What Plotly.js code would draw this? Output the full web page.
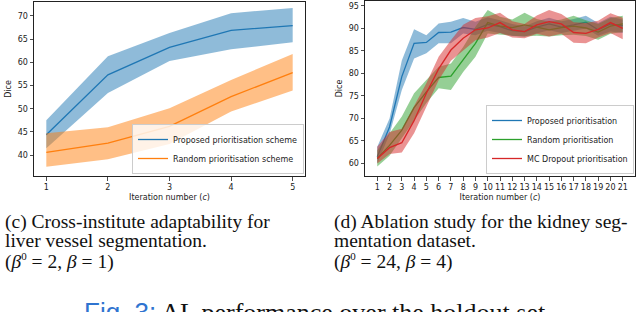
<!DOCTYPE html>
<html><head><meta charset="utf-8">
<script src="https://cdn.plot.ly/plotly-3.0.1.min.js"></script>
<style>html,body{margin:0;padding:0;background:#fff}#chart{width:640px;height:312px}</style>
</head><body><div id="chart"></div>
<script>
// ---- Panel (c): cross-institute adaptability ----
const itersC = [1, 2, 3, 4, 5];
const propMeanC = [44.4, 57.3, 63.2, 66.9, 67.9];
const propLoC   = [41.5, 53.4, 60.3, 62.8, 64.3];
const propHiC   = [47.5, 61.3, 66.3, 70.6, 71.7];
const randMeanC = [40.6, 42.6, 46.2, 52.6, 57.8];
const randLoC   = [37.5, 39.1, 42.4, 49.4, 53.9];
const randHiC   = [44.7, 46.0, 50.1, 56.2, 61.8];
const namesC = ["Proposed prioritisation scheme", "Random prioritisation scheme"];

// ---- Panel (d): ablation study ----
const itersD = [1,2,3,4,5,6,7,8,9,10,11,12,13,14,15,16,17,18,19,20,21];
const propMeanD = [61.5,68.1,79.3,86.7,86.9,89.1,89.2,90.2,89.8,90.9,90.4,89.5,89.3,90.3,91.0,90.3,90.8,91.4,89.7,91.0,90.6];
const propLoD   = [60.0,66.5,76.3,83.3,84.5,86.7,86.7,88.9,88.5,89.5,89.0,88.3,88.2,88.9,89.6,89.0,89.5,90.0,88.4,89.3,89.0];
const propHiD   = [63.7,70.0,82.9,89.8,88.5,91.1,91.5,92.3,91.5,92.5,91.8,91.0,90.5,91.6,92.4,91.6,92.1,92.8,91.2,92.6,92.0];
const randMeanD = [61.1,64.0,67.4,72.4,75.9,79.1,79.4,83.0,86.7,91.3,90.5,90.2,90.8,90.3,89.7,90.2,90.5,90.1,89.2,90.5,91.0];
const randLoD   = [59.3,61.7,65.6,69.6,73.4,76.7,76.3,80.3,83.7,88.9,88.6,88.4,88.2,88.4,88.2,88.5,88.6,88.3,87.5,88.8,89.2];
const randHiD   = [62.9,66.7,70.4,75.6,78.5,81.5,82.2,85.9,90.4,94.1,92.6,92.0,93.5,92.1,91.5,92.0,92.8,91.8,91.0,92.3,92.8];
const mcMeanD   = [61.1,63.5,64.6,69.5,75.6,81.0,85.2,87.8,89.7,90.1,91.3,89.7,89.3,90.8,91.5,91.0,89.1,88.9,89.8,91.3,90.0];
const mcLoD     = [60.0,62.1,62.4,66.7,72.6,78.5,82.8,85.2,87.4,88.0,89.0,88.0,87.8,88.8,88.2,88.8,86.8,86.7,88.0,89.0,87.6];
const mcHiD     = [63.7,67.0,67.7,72.6,77.8,83.7,87.4,90.8,92.3,92.7,93.5,91.6,91.0,92.9,94.1,93.2,91.4,91.2,91.7,93.4,92.4];
const namesD = ["Proposed prioritisation", "Random prioritisation", "MC Dropout prioritisation"];

const BLUE = "#1f77b4", ORANGE = "#ff7f0e", GREEN = "#2ca02c", RED = "#d62728";
function rgba(hex, a) {
  const n = parseInt(hex.slice(1), 16);
  return `rgba(${(n>>16)&255},${(n>>8)&255},${n&255},${a})`;
}
function band(x, lo, hi, color, ax, ay) {
  return {x: x.concat(x.slice().reverse()), y: hi.concat(lo.slice().reverse()),
    type: "scatter", mode: "lines", fill: "toself", fillcolor: rgba(color, 0.5),
    line: {width: 0, color: rgba(color, 0)}, hoverinfo: "skip", showlegend: false,
    xaxis: ax, yaxis: ay};
}
function line(x, y, color, name, ax, ay, legend) {
  return {x: x, y: y, type: "scatter", mode: "lines", name: name,
    line: {color: color, width: 1.3}, xaxis: ax, yaxis: ay, legend: legend};
}

const traces = [
  band(itersC, propLoC, propHiC, BLUE, "x", "y"),
  line(itersC, propMeanC, BLUE, namesC[0], "x", "y", "legend"),
  band(itersC, randLoC, randHiC, ORANGE, "x", "y"),
  line(itersC, randMeanC, ORANGE, namesC[1], "x", "y", "legend"),
  band(itersD, propLoD, propHiD, BLUE, "x2", "y2"),
  line(itersD, propMeanD, BLUE, namesD[0], "x2", "y2", "legend2"),
  band(itersD, randLoD, randHiD, GREEN, "x2", "y2"),
  line(itersD, randMeanD, GREEN, namesD[1], "x2", "y2", "legend2"),
  band(itersD, mcLoD, mcHiD, RED, "x2", "y2"),
  line(itersD, mcMeanD, RED, namesD[2], "x2", "y2", "legend2"),
];

const tickFont = {family: "DejaVu Sans", size: 8, color: "#222"};
function axis(extra) {
  return Object.assign({showline: true, mirror: true, linecolor: "#222", linewidth: 1,
    ticks: "outside", ticklen: 3.5, tickwidth: 0.8, tickcolor: "#222",
    showgrid: false, zeroline: false, tickfont: tickFont}, extra);
}
const titleFont = {family: "DejaVu Sans", size: 8, color: "#222"};
const xTitle = {text: "Iteration number (<i>c</i>)", font: titleFont, standoff: 3};
const yTitle = {text: "Dice", font: titleFont, standoff: 4};

const serif = {family: "Liberation Serif", size: 19.5, color: "#111"};
function cap(text, x, yPix, size, anchor) {
  return {text: text, xref: "paper", yref: "paper", x: x, y: (312 - yPix) / 312,
    xanchor: anchor || "left", yanchor: "middle", showarrow: false,
    font: Object.assign({}, serif, size ? {size: size} : {}), align: "left"};
}

const legendStyle = {bgcolor: "rgba(255,255,255,0.8)", bordercolor: "#ccc", borderwidth: 1,
  font: {family: "DejaVu Sans", size: 8, color: "#222"}, itemwidth: 30, tracegroupgap: 0,
  xanchor: "right", yanchor: "bottom"};

const sup0 = "<sup><span style=\"font-size:11px\">0</span></sup>";

const layout = {
  width: 640, height: 312,
  margin: {l: 0, r: 0, t: 0, b: 0},
  paper_bgcolor: "#fff", plot_bgcolor: "#fff",
  xaxis: axis({domain: [34/640, 305/640], range: [0.8, 5.2], tickvals: itersC, anchor: "y", title: xTitle}),
  yaxis: axis({domain: [1 - 176/312, 1 - 2/312], range: [35.5, 73.0], dtick: 5, tick0: 40, anchor: "x", title: yTitle}),
  xaxis2: axis({domain: [365/640, 635/640], range: [0, 22], tickvals: itersD, anchor: "y2", title: xTitle}),
  yaxis2: axis({domain: [1 - 176/312, 1 - 1/312], range: [57.2, 96.1], dtick: 5, tick0: 60, anchor: "x2", title: yTitle}),
  legend: Object.assign({x: 304/640, y: (312 - 174)/312}, legendStyle),
  legend2: Object.assign({x: 634/640, y: (312 - 174)/312}, legendStyle),
  annotations: [
    cap("(c) Cross-institute adaptability for", 3/640, 222),
    cap("liver vessel segmentation.", 3/640, 240.5),
    cap("(<i>β</i>" + sup0 + " = 2, <i>β</i> = 1)", 3/640, 261),
    cap("(d) Ablation study for the kidney seg-", 332/640, 222),
    cap("mentation dataset.", 332/640, 240.5),
    cap("(<i>β</i>" + sup0 + " = 24, <i>β</i> = 4)", 332/640, 261),
    cap("<span style=\"color:#2f74d0;font-family:'Liberation Sans'\">Fig. 3:</span> AL performance over the holdout set.", 318/640, 311.5, 26, "center"),
  ],
};

Plotly.newPlot("chart", traces, layout, {displayModeBar: false, staticPlot: true});
</script>
</body></html>
